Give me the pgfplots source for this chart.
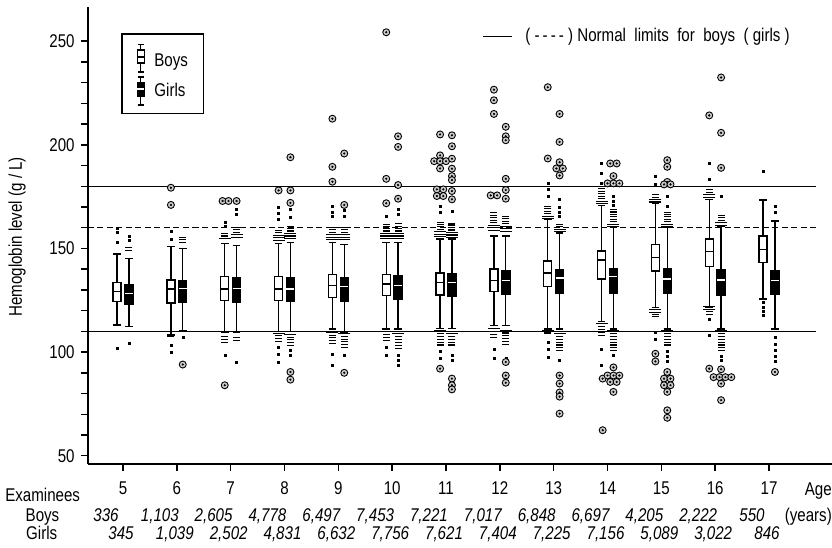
\documentclass[border=0pt]{standalone}
\usepackage{fontspec}
\setmainfont{Liberation Sans}[FakeStretch=0.82]
\usepackage{pgfplots}
\usepackage{pgfplotstable}
\pgfplotsset{compat=1.18}
\usepgfplotslibrary{statistics}

\newcommand\lab{\fontsize{18.5}{21}\selectfont}

% extreme outliers (circled)
\pgfplotstableread{
x y
5.89 179.3
5.89 171.0
6.11 94.0
6.85 172.9
6.96 172.9
6.89 84.0
7.11 172.9
7.89 178.0
8.11 194.0
8.11 178.0
8.11 172.0
8.11 90.4
8.11 86.7
8.89 212.6
8.89 189.4
8.89 182.2
9.11 195.8
9.11 171.0
9.11 90.0
9.89 254.3
9.89 183.6
9.89 171.8
10.11 204.1
10.11 199.0
10.11 180.6
10.11 174.0
10.89 205.0
10.89 194.9
10.78 192.1
10.89 192.1
11.00 192.1
10.89 188.6
10.83 178.5
10.95 178.5
10.83 175.3
10.95 175.3
10.89 92.0
11.11 204.6
11.11 199.3
11.11 193.3
11.11 188.5
11.11 184.9
11.11 183.0
11.11 177.7
11.11 173.7
11.11 87.2
11.11 84.0
11.11 82.0
11.89 226.6
11.89 221.5
11.89 214.9
11.83 175.6
11.95 175.6
12.11 208.7
12.11 204.1
12.11 202.2
12.11 183.6
12.11 178.2
12.11 174.0
12.11 95.2
12.11 88.7
12.11 85.2
12.89 227.8
12.89 193.4
13.11 214.9
13.11 201.4
13.11 191.6
13.05 188.6
13.17 188.6
13.11 185.2
13.11 88.7
13.11 84.8
13.11 80.5
13.11 78.5
13.11 70.3
13.91 87.2
13.91 62.3
14.05 191.0
14.17 191.0
14.11 184.9
14.00 181.4
14.11 181.4
14.22 181.4
14.11 92.6
14.00 88.7
14.11 88.7
14.22 88.7
14.05 85.6
14.17 85.6
14.11 80.8
14.89 99.2
14.89 95.5
15.11 192.6
15.11 189.4
15.11 182.1
15.05 180.9
15.17 180.9
15.11 90.4
15.05 87.2
15.17 87.2
15.05 84.0
15.17 84.0
15.11 80.8
15.11 71.9
15.11 68.3
15.89 214.2
15.89 92.0
16.11 232.5
16.11 205.8
16.11 188.9
16.11 91.7
15.97 87.9
16.08 87.9
16.19 87.9
16.30 87.9
16.11 84.8
16.11 76.8
17.11 90.4
}\circled

% single outliers (dots)
\pgfplotstableread{
x y
4.89 159.6
4.89 157.7
4.89 152.9
4.89 102.0
5.11 156.0
5.11 154.1
5.11 104.5
5.89 158.2
5.89 154.5
5.89 103.2
5.89 100.0
6.11 107.2
6.89 162.8
6.89 160.9
6.89 98.4
7.11 168.9
7.11 166.5
7.11 95.2
7.89 169.7
7.89 166.9
7.89 164.1
7.89 102.4
7.89 98.8
7.89 95.2
8.11 169.0
8.11 165.0
8.11 100.8
8.11 98.4
8.89 170.5
8.89 167.5
8.89 165.7
8.89 99.2
8.89 93.5
9.11 168.5
9.11 165.5
9.11 98.4
9.89 165.7
9.89 102.4
9.89 98.4
10.11 168.9
10.11 166.5
10.11 98.4
10.11 96.0
10.11 93.5
10.89 170.5
10.89 167.3
10.89 100.2
10.89 96.9
11.11 168.1
11.11 98.4
11.11 96.0
11.89 101.6
11.89 96.9
12.11 173.7
12.11 96.9
12.89 181.7
12.89 178.5
12.89 175.3
12.89 104.8
12.89 101.6
12.89 97.6
13.11 173.7
13.11 170.0
13.11 167.5
13.11 165.7
13.11 96.0
13.89 191.3
13.89 186.5
13.89 181.7
13.89 101.6
13.89 93.5
14.11 175.0
14.11 173.0
14.11 171.0
14.11 98.4
14.89 184.9
14.89 180.9
14.89 109.7
14.89 106.4
15.11 175.3
15.11 170.5
15.11 100.2
15.11 97.8
15.11 95.4
15.89 191.3
15.89 183.3
15.89 116.0
15.89 108.0
16.11 175.3
16.11 98.0
16.11 96.0
16.89 187.3
16.89 124.0
16.89 121.5
16.89 119.5
16.89 117.6
17.11 170.5
17.11 167.3
17.11 107.0
17.11 104.0
17.11 101.0
17.11 98.0
17.11 95.4
}\dotpts

% dense outlier stacks, wide dashes
\pgfplotstableread{
x y
6.89 154.8
7.11 155.5
7.11 156.7
7.89 154.0
7.89 155.2
7.89 156.4
8.11 154.8
8.11 156.0
8.11 157.2
7.89 109.0
8.11 108.5
8.89 154.3
8.89 155.5
8.89 156.7
9.11 154.2
9.11 155.4
9.11 156.6
8.89 109.5
9.11 108.8
9.89 154.8
9.89 156.0
9.89 157.2
10.11 154.8
10.11 156.0
10.11 157.2
9.89 110.0
10.11 108.8
10.89 155.6
10.89 156.8
10.89 158.0
11.11 155.3
11.11 156.5
11.11 157.7
10.89 110.3
11.11 109.0
11.89 158.8
11.89 160.0
11.89 161.2
12.11 158.3
12.11 159.5
12.11 160.7
11.89 111.3
12.11 110.5
12.89 164.4
12.89 165.6
13.11 158.0
13.11 159.2
12.89 110.5
13.11 109.0
13.89 171.6
13.89 172.8
14.11 160.4
14.11 161.6
13.89 113.6
14.11 110.5
14.89 172.4
14.89 173.6
15.11 160.4
15.11 161.6
14.89 120.5
14.89 119.3
15.11 110.5
15.89 174.8
15.89 176.0
16.11 161.2
16.11 162.4
15.89 121.8
15.89 120.6
16.11 110.5
}\dashw

% dense outlier stacks, narrow dashes
\pgfplotstableread{
x y
5.11 149.0
5.11 150.3
5.89 107.5
6.11 152.9
6.11 154.2
6.11 155.4
6.89 156.0
6.89 157.0
6.89 107.5
6.89 106.0
6.89 104.5
7.11 157.9
7.11 159.1
7.11 160.1
7.11 107.0
7.11 105.5
7.89 157.6
7.89 158.6
7.89 107.8
7.89 106.5
7.89 105.2
8.11 158.4
8.11 159.6
8.11 160.8
8.11 107.2
8.11 105.9
8.11 104.6
8.11 103.3
8.89 157.9
8.89 159.1
8.89 160.3
8.89 108.2
8.89 106.9
8.89 105.6
8.89 104.3
9.11 157.8
9.11 159.0
9.11 160.0
9.11 107.5
9.11 106.2
9.11 104.9
9.11 103.6
9.11 102.3
9.89 158.4
9.89 159.6
9.89 160.8
9.89 161.7
9.89 108.6
9.89 107.2
9.89 105.8
10.11 158.4
10.11 159.6
10.11 160.8
10.11 162.0
10.11 107.4
10.11 106.0
10.11 104.6
10.11 103.2
10.11 101.8
10.89 159.2
10.89 160.4
10.89 161.6
10.89 162.5
10.89 109.0
10.89 107.6
10.89 106.2
10.89 104.8
10.89 103.4
11.11 158.9
11.11 160.1
11.11 161.3
11.11 162.2
11.11 107.6
11.11 106.2
11.11 104.8
11.11 103.4
11.89 162.4
11.89 163.6
11.89 164.8
11.89 166.0
11.89 167.2
11.89 110.0
11.89 108.6
11.89 107.2
12.11 161.9
12.11 163.1
12.11 164.3
12.11 165.5
12.11 109.2
12.11 107.8
12.11 106.4
12.11 105.0
12.11 103.6
12.89 166.8
12.89 168.0
12.89 169.2
12.89 170.4
12.89 109.2
13.11 160.4
13.11 161.6
13.11 107.6
13.11 106.2
13.11 104.8
13.11 103.4
13.11 102.0
13.11 100.6
13.89 174.0
13.89 175.2
13.89 176.4
13.89 177.6
13.89 178.8
13.89 112.2
13.89 110.8
13.89 109.4
13.89 108.0
14.11 162.8
14.11 164.0
14.11 165.2
14.11 166.4
14.11 167.6
14.11 168.8
14.11 109.0
14.11 107.6
14.11 106.2
14.11 104.8
14.11 103.4
14.11 102.0
14.11 100.6
14.89 174.8
14.89 176.0
14.89 118.1
14.89 117.0
15.11 162.8
15.11 164.0
15.11 165.2
15.11 166.4
15.11 167.4
15.11 109.0
15.11 107.6
15.11 106.2
15.11 104.8
15.11 103.4
15.89 177.2
15.89 178.4
15.89 119.4
15.89 118.2
16.11 163.6
16.11 164.8
16.11 166.0
16.11 109.0
16.11 107.6
16.11 106.2
16.11 104.8
16.11 103.4
16.11 102.0
16.11 100.6
}\dashn

\pgfplotsset{
  bx/.style={black, fill=white, line width=1.4bp, solid, mark=none,
    boxplot/box extend=0.15, boxplot/whisker extend=0.14},
  gx/.style={black, fill=black, line width=1.4bp, solid, mark=none,
    boxplot/box extend=0.15, boxplot/whisker extend=0.14,
    boxplot/every median/.style={draw=white, line width=1.4bp}},
}
\tikzset{num/.style={anchor=base, inner sep=0pt, font=\lab\itshape}}

\begin{document}
\lab
\begin{tikzpicture}
\begin{axis}[
  scale only axis, width=744bp, height=457bp,
  xmin=4.35, xmax=18.17, ymin=46, ymax=266.5,
  axis x line=bottom, axis y line=left,
  axis line style={-, line width=1.8bp},
  xtick={5,...,17}, ytick={50,100,150,200,250}, minor y tick num=4,
  tick align=outside, major tick length=7bp, minor tick length=7bp,
  every tick/.style={black, line width=1.4bp},
  /pgf/number format/assume math mode=true,
  tick label style={font=\lab},
  xticklabel style={yshift=-4bp},
  ylabel={Hemoglobin level (g / L)},
  ylabel style={font=\lab, at={(axis description cs:-0.0954,0.497)}, anchor=center},
  boxplot/draw direction=y,
  clip=false,
]
\coordinate (ll) at (rel axis cs:0,0);
\coordinate (ur) at (rel axis cs:1,1);

% normal limits
\addplot[black, line width=1.4bp] coordinates {(4.35,180)(17.87,180)};
\addplot[black, line width=1.5bp, dash pattern=on 6bp off 3.5bp] coordinates {(4.35,160)(17.87,160)};
\addplot[black, line width=1.4bp] coordinates {(4.35,110)(17.87,110)};

% outlier stacks and dots
\addplot[only marks, mark=-, mark size=6bp, black, line width=1.1bp] table[x=x,y=y] {\dashw};
\addplot[only marks, mark=-, mark size=3.5bp, black, line width=1.1bp] table[x=x,y=y] {\dashn};
\addplot[only marks, mark=square*, mark size=1bp, black] table[x=x,y=y] {\dotpts};

% boys
\addplot[bx, boxplot prepared={draw position=4.89, lower whisker=113.1, lower quartile=124.5, median=129.3, upper quartile=133.6, upper whisker=147.3}] coordinates {};
\addplot[bx, boxplot prepared={draw position=5.89, lower whisker=108.3, lower quartile=123.7, median=130.4, upper quartile=134.8, upper whisker=150.8}] coordinates {};
\addplot[bx, boxplot prepared={draw position=6.89, lower whisker=109.6, lower quartile=124.8, median=130.4, upper quartile=136.4, upper whisker=152.4}] coordinates {};
\addplot[bx, boxplot prepared={draw position=7.89, lower whisker=109.9, lower quartile=124.8, median=130.4, upper quartile=136.4, upper whisker=152.4}] coordinates {};
\addplot[bx, boxplot prepared={draw position=8.89, lower whisker=111.2, lower quartile=126.4, median=132.0, upper quartile=137.3, upper whisker=152.8}] coordinates {};
\addplot[bx, boxplot prepared={draw position=9.89, lower whisker=111.2, lower quartile=127.2, median=132.8, upper quartile=137.3, upper whisker=152.8}] coordinates {};
\addplot[bx, boxplot prepared={draw position=10.89, lower whisker=111.5, lower quartile=127.5, median=133.6, upper quartile=138.1, upper whisker=154.5}] coordinates {};
\addplot[bx, boxplot prepared={draw position=11.89, lower whisker=112.8, lower quartile=129.1, median=134.4, upper quartile=140.0, upper whisker=156.0}] coordinates {};
\addplot[bx, boxplot prepared={draw position=12.89, lower whisker=111.2, lower quartile=131.5, median=138.1, upper quartile=144.0, upper whisker=164.0}] coordinates {};
\addplot[bx, boxplot prepared={draw position=13.89, lower whisker=114.7, lower quartile=135.2, median=144.5, upper quartile=148.8, upper whisker=170.8}] coordinates {};
\addplot[bx, boxplot prepared={draw position=14.89, lower whisker=121.6, lower quartile=139.2, median=145.7, upper quartile=152.0, upper whisker=171.8}] coordinates {};
\addplot[bx, boxplot prepared={draw position=15.89, lower whisker=121.6, lower quartile=141.2, median=148.5, upper quartile=154.5, upper whisker=173.7}] coordinates {};
\addplot[bx, boxplot prepared={draw position=16.89, lower whisker=125.6, lower quartile=143.2, median=149.6, upper quartile=156.0, upper whisker=173.4}] coordinates {};

% girls
\addplot[gx, boxplot prepared={draw position=5.11, lower whisker=112.3, lower quartile=123.2, median=128.4, upper quartile=132.5, upper whisker=145.2}] coordinates {};
\addplot[gx, boxplot prepared={draw position=6.11, lower whisker=110.4, lower quartile=124.0, median=130.8, upper quartile=134.4, upper whisker=150.0}] coordinates {};
\addplot[gx, boxplot prepared={draw position=7.11, lower whisker=109.6, lower quartile=124.0, median=130.8, upper quartile=135.8, upper whisker=151.3}] coordinates {};
\addplot[gx, boxplot prepared={draw position=8.11, lower whisker=109.9, lower quartile=124.3, median=130.4, upper quartile=135.8, upper whisker=152.8}] coordinates {};
\addplot[gx, boxplot prepared={draw position=9.11, lower whisker=109.6, lower quartile=124.5, median=131.5, upper quartile=135.8, upper whisker=152.0}] coordinates {};
\addplot[gx, boxplot prepared={draw position=10.11, lower whisker=111.2, lower quartile=125.6, median=132.0, upper quartile=136.8, upper whisker=152.8}] coordinates {};
\addplot[gx, boxplot prepared={draw position=11.11, lower whisker=111.5, lower quartile=126.9, median=133.6, upper quartile=137.6, upper whisker=154.5}] coordinates {};
\addplot[gx, boxplot prepared={draw position=12.11, lower whisker=112.8, lower quartile=128.0, median=134.4, upper quartile=139.2, upper whisker=156.0}] coordinates {};
\addplot[gx, boxplot prepared={draw position=13.11, lower whisker=111.2, lower quartile=128.4, median=135.7, upper quartile=139.7, upper whisker=157.5}] coordinates {};
\addplot[gx, boxplot prepared={draw position=14.11, lower whisker=111.2, lower quartile=128.5, median=136.4, upper quartile=140.4, upper whisker=160.0}] coordinates {};
\addplot[gx, boxplot prepared={draw position=15.11, lower whisker=111.2, lower quartile=128.5, median=135.2, upper quartile=140.4, upper whisker=160.0}] coordinates {};
\addplot[gx, boxplot prepared={draw position=16.11, lower whisker=111.2, lower quartile=127.5, median=134.8, upper quartile=139.7, upper whisker=160.5}] coordinates {};
\addplot[gx, boxplot prepared={draw position=17.11, lower whisker=111.2, lower quartile=127.7, median=134.4, upper quartile=139.2, upper whisker=163.3}] coordinates {};

% circled extreme values
\addplot[only marks, mark=*, mark size=3.5bp, mark options={fill=gray!40, draw=black, line width=0.9bp}] table[x=x,y=y] {\circled};
\addplot[only marks, mark=*, mark size=0.9bp, black] table[x=x,y=y] {\circled};

% legend
\draw[line width=1.2bp] (axis cs:4.98,215.0) rectangle (axis cs:6.50,253.5);
\addplot[bx, boxplot/box extend=0.13, boxplot/whisker extend=0.12, boxplot prepared={draw position=5.33, lower whisker=235.1, lower quartile=239.4, median=242.3, upper quartile=245.8, upper whisker=248.5}] coordinates {};
\addplot[gx, boxplot/box extend=0.13, boxplot/whisker extend=0.12, boxplot prepared={draw position=5.33, lower whisker=219.3, lower quartile=223.3, median=226.9, upper quartile=230.1, upper whisker=232.7}] coordinates {};
\node[anchor=west, inner sep=0pt] at (axis cs:5.58,240.0) {Boys};
\node[anchor=west, inner sep=0pt] at (axis cs:5.58,226.5) {Girls};

\draw[line width=1.2bp] (axis cs:11.69,252.1) -- (axis cs:12.23,252.1);
\node[anchor=west, inner sep=0pt] at (axis cs:12.47,252.1)
  {( {-}\,{-}\,{-}\,{-} )\ Normal\ \ limits\ \ for\ \ boys\ \ ( girls )};

% examinees table
\node[anchor=base west, inner sep=0pt] at (axis cs:2.81,27.7) {Examinees};
\node[anchor=base, inner sep=0pt] at (axis cs:3.505,18.3) {Boys};
\node[anchor=base, inner sep=0pt] at (axis cs:3.49,9.4) {Girls};
\node[anchor=base east, inner sep=0pt] at (axis cs:18.17,30.6) {Age};
\node[anchor=base east, inner sep=0pt] at (axis cs:18.17,18.3) {(years)};

\node[num] at (axis cs:4.684,18.3) {336};
\node[num] at (axis cs:5.684,18.3) {1,103};
\node[num] at (axis cs:6.684,18.3) {2,605};
\node[num] at (axis cs:7.684,18.3) {4,778};
\node[num] at (axis cs:8.684,18.3) {6,497};
\node[num] at (axis cs:9.684,18.3) {7,453};
\node[num] at (axis cs:10.684,18.3) {7,221};
\node[num] at (axis cs:11.684,18.3) {7,017};
\node[num] at (axis cs:12.684,18.3) {6,848};
\node[num] at (axis cs:13.684,18.3) {6,697};
\node[num] at (axis cs:14.684,18.3) {4,205};
\node[num] at (axis cs:15.684,18.3) {2,222};
\node[num] at (axis cs:16.684,18.3) {550};

\node[num] at (axis cs:4.963,9.4) {345};
\node[num] at (axis cs:5.963,9.4) {1,039};
\node[num] at (axis cs:6.963,9.4) {2,502};
\node[num] at (axis cs:7.963,9.4) {4,831};
\node[num] at (axis cs:8.963,9.4) {6,632};
\node[num] at (axis cs:9.963,9.4) {7,756};
\node[num] at (axis cs:10.963,9.4) {7,621};
\node[num] at (axis cs:11.963,9.4) {7,404};
\node[num] at (axis cs:12.963,9.4) {7,225};
\node[num] at (axis cs:13.963,9.4) {7,156};
\node[num] at (axis cs:14.963,9.4) {5,089};
\node[num] at (axis cs:15.963,9.4) {3,022};
\node[num] at (axis cs:16.963,9.4) {846};
\end{axis}
\pgfresetboundingbox
\path[use as bounding box] ([xshift=-88bp,yshift=-84bp]ll) rectangle ([yshift=7bp]ur);
\end{tikzpicture}
\end{document}
